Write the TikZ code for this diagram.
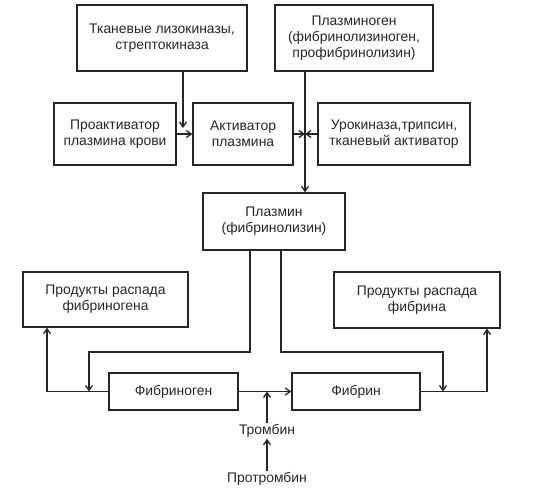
\documentclass[tikz,border=0pt]{standalone}
\usepackage{fontspec}
\setmainfont{Liberation Sans}
\usetikzlibrary{arrows.meta,calc}
\definecolor{ink}{HTML}{262626}
\begin{document}
\begin{tikzpicture}[x=1pt,y=-1pt,
  box/.style={draw=ink,line width=1.3pt,align=center,text=ink,inner sep=0pt,
    font=\fontsize{13.9}{16}\selectfont},
  lbl/.style={text=ink,inner sep=1pt,font=\fontsize{13.9}{16}\selectfont},
  arr/.style={draw=ink,line width=1.3pt,-{Straight Barb[length=5pt,width=7pt]}},
  ln/.style={draw=ink,line width=1.3pt}]
\useasboundingbox (0,0) rectangle (534,494);
\node[box,minimum width=170pt,minimum height=66pt] (tk) at (162,38) {Тканевые лизокиназы,\\стрептокиназа};
\node[box,minimum width=158pt,minimum height=66pt] (pg) at (354,38) {Плазминоген\\(фибринолизиноген,\\профибринолизин)};
\node[box,minimum width=122pt,minimum height=62pt] (pa) at (115,134) {Проактиватор\\плазмина крови};
\node[box,minimum width=100pt,minimum height=62pt] (ak) at (243,134) {Активатор\\плазмина};
\node[box,minimum width=152pt,minimum height=62pt] (ur) at (394,134) {Урокиназа,трипсин,\\тканевый активатор};
\node[box,minimum width=142pt,minimum height=57pt] (pl) at (274,221.5) {Плазмин\\(фибринолизин)};
\node[box,minimum width=165pt,minimum height=55pt] (pfg) at (105.5,299.5) {Продукты распада\\фибриногена};
\node[box,minimum width=166pt,minimum height=56pt] (pf) at (417,300) {Продукты распада\\фибрина};
\node[box,minimum width=129pt,minimum height=37pt] (fg) at (173.5,391.5) {Фибриноген};
\node[box,minimum width=128pt,minimum height=37pt] (fb) at (356,391.5) {Фибрин};
\node[lbl] (tr) at (267,431) {Тромбин};
\node[lbl] (ptr) at (267,479) {Протромбин};
\coordinate (c1) at (183,128);
\coordinate (j) at (305,134);
\coordinate (pl1) at (250,0);
\coordinate (pl2) at (281,0);
\coordinate (hl) at (89,352);
\coordinate (hr) at (443,352);
\coordinate (lx) at (47,391.5);
\coordinate (rx) at (487,391.5);
\draw[arr] (c1 |- tk.south) -- (c1);
\draw[arr] (pa.east) -- (ak.west);
\draw[arr] (j |- pg.south) -- (j |- pl.north);
\draw[arr] (ak.east) -- (j);
\draw[arr] (ur.west) -- (j);
\draw[arr] (pl1 |- pl.south) |- (hl) -- (hl |- fg.west);
\draw[arr] (pl2 |- pl.south) |- (hr) -- (hr |- fb.east);
\draw[arr] (fg.west) -- (lx) -- (lx |- pfg.south);
\draw[arr] (fb.east) -- (rx) -- (rx |- pf.south);
\draw[arr] (fg.east) -- (fb.west);
\draw[arr] (tr.north) -- (tr |- fg.east);
\draw[arr] (ptr.north) -- (tr.south);
\end{tikzpicture}
\end{document}
